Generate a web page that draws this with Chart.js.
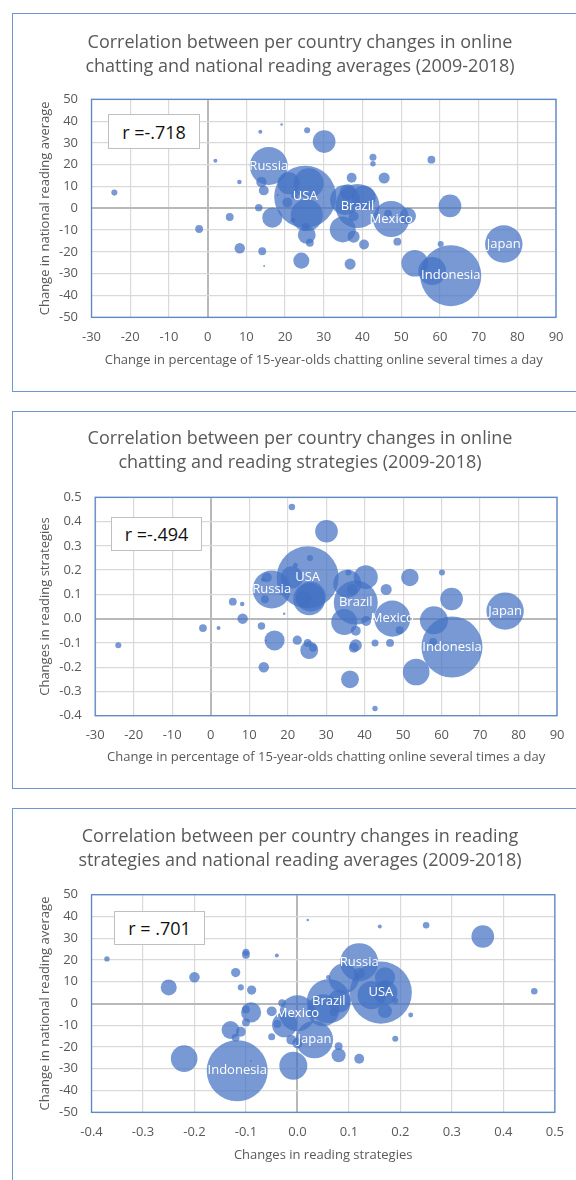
<!DOCTYPE html>
<html><head><meta charset="utf-8">
<script src="https://cdn.jsdelivr.net/npm/chart.js@4.4.1/dist/chart.umd.min.js"></script>
<style>
html,body{margin:0;padding:0;background:#fff}
body{width:576px;height:1180px;overflow:hidden;position:relative;font-family:"Open Sans",sans-serif}
.panel{position:absolute;left:12px;width:620px;border:1.3px solid #6f97cf;box-sizing:border-box}
canvas{position:absolute;left:12px}
.title{position:absolute;left:0;width:600px;text-align:center;color:#595959;font-size:18px;line-height:23.5px;z-index:2}
.rbox{position:absolute;box-sizing:border-box;border:1px solid #bfbfbf;background:#fff;color:#111;font-size:18px;display:flex;align-items:center;justify-content:center;z-index:2}
</style></head>
<body>
<div class="panel" style="top:13px;height:379px"></div>
<div class="panel" style="top:411px;height:378px"></div>
<div class="panel" style="top:808px;height:400px"></div>
<canvas id="c1" width="564" height="379" style="top:13px"></canvas>
<canvas id="c2" width="564" height="378" style="top:411px"></canvas>
<canvas id="c3" width="564" height="372" style="top:808px"></canvas>
<div class="title" style="top:30px">Correlation between per country changes in online<br>chatting and national reading averages (2009-2018)</div>
<div class="title" style="top:426px">Correlation between per country changes in online<br>chatting and reading strategies (2009-2018)</div>
<div class="title" style="top:824px">Correlation between per country changes in reading<br>strategies and national reading averages (2009-2018)</div>
<div class="rbox" style="left:108px;top:114px;width:92px;height:35px">r =-.718</div>
<div class="rbox" style="left:111px;top:517px;width:91px;height:34px">r =-.494</div>
<div class="rbox" style="left:114px;top:911px;width:91px;height:34px">r = .701</div>
<script>
// Labelled countries come first in every series, in this order
const labelledCountries = ['USA','Indonesia','Brazil','Russia','Japan','Mexico'];

// Tick values
const chatTicks = [-30,-20,-10,0,10,20,30,40,50,60,70,80,90];
const readTicks = [-50,-40,-30,-20,-10,0,10,20,30,40,50];
const strategyTicks = [-0.4,-0.3,-0.2,-0.1,0,0.1,0.2,0.3,0.4,0.5];

// Chart 1: chatting change (x) vs reading average change (y)
const chat1 = [25.2,62.8,38.7,15.8,76.5,47.4,
  -24.1,-2.2,2.0,5.7,8.2,8.3,13.6,13.2,13.9,14.5,14.1,14.6,16.7,19.1,18.1,20.6,20.9,22,22.5,
  26.1,25.6,25.6,26.4,25.3,24.2,25.7,30.1,42.7,42.7,45.6,37.2,57.8,62.6,60.2,53.5,58.0,51.7,
  49.0,40.4,36.8,37.7,34.9,35.5,40.3,36.2,46.6,35.8,37.7];
const read1 = [5.3,-30.9,1.0,19.4,-16.4,-4.9,
  7.2,-9.5,21.8,-4.0,12.1,-18.3,35.1,0.3,12.1,8.2,-19.7,-26.5,-4.3,38.4,6,2.7,11.5,-5.5,6.2,
  11.5,-3.1,-12.2,-15.8,-8.4,-24,35.8,30.6,23.4,20.4,13.9,14.0,22.3,1.1,-16.4,-25.2,-28.8,-3.5,
  -15.3,-16.6,-25.6,-13,-9.7,3.8,5,7.4,-2.5,1.3,-3.6];
const size1 = [314,304,158,118,114,106,
  3,5,1.3,5,1.7,9,1.3,4.5,9,8,5,0.3,33,0.5,0.3,8,40,2,5,
  73,84,26,5,5,21,3,42,4,2.4,10,8,5,42,3,58,64,22,
  5,8,10,12,55,73,47,21,5,3,8];

// Chart 2: chatting change (x) vs reading strategies change (y)
const chat2 = [25.2,62.7,37.7,15.85,76.5,47.2,
  -24.0,-2.0,2.05,5.75,8.2,8.3,13.6,13.2,13.8,14.6,14.1,14.4,16.6,19.1,18.1,21.1,21.1,22,22.5,
  26.0,25.6,25.6,26.6,25.2,24.2,25.8,30.1,42.7,42.7,45.6,37.2,57.8,62.6,60.1,53.4,58.0,51.75,
  49.1,40.4,36.8,37.7,34.7,35.5,40.3,36.2,46.6,35.8,37.7];
const strat2 = [0.17,-0.117,0.066,0.12,0.031,0.0,
  -0.11,-0.039,-0.039,0.07,0.06,0.0,0.16,-0.03,-0.2,0.17,0.08,-0.09,-0.09,0.02,0.1,0.46,0.17,0.22,-0.089,
  0.09,0.08,-0.13,-0.12,-0.1,0.08,0.25,0.36,-0.1,-0.37,0.12,-0.12,-0.096,0.081,0.19,-0.22,-0.007,0.17,
  -0.048,-0.01,0.12,-0.11,-0.014,0.144,0.171,-0.25,-0.1,0.19,-0.05];
const size2 = [314,304,158,118,114,106,
  3,5,1.3,5,1.7,9,1.3,4.5,9,8,5,0.3,33,0.5,0.3,3.5,40,2,7,
  73,84,26,5,5,21,3,42,4,2.4,10,8,5,42,3,58,64,25,
  5,8,10,12,55,64,47,26,5,3,8];

// Chart 3: reading strategies change (x) vs reading average change (y)
const strat3 = [0.162,-0.117,0.061,0.12,0.033,0.0,
  -0.11,-0.039,-0.04,0.07,0.06,0.0,0.16,-0.03,-0.2,0.17,0.08,-0.09,-0.09,0.02,0.1,0.46,0.17,0.22,-0.089,
  0.09,0.05,-0.13,-0.12,-0.1,0.08,0.25,0.36,-0.1,-0.37,0.12,-0.12,-0.1,0.081,0.19,-0.22,-0.008,0.17,
  -0.05,-0.012,0.12,-0.11,-0.025,0.144,0.171,-0.25,-0.1,0.19,-0.05];
const read3 = [5.0,-30.9,1.1,19.0,-16.6,-4.5,
  7.4,-9.4,22.1,-4.0,12.1,-18.2,35.4,0.2,12.1,8.2,-19.6,-26.5,-4.1,38.4,6,5.6,12.0,-5.3,6.2,
  11.5,-3.1,-12.2,-15.7,-8.7,-23.8,36.0,30.8,23.6,20.5,13.9,14.2,22.4,1.1,-16.2,-25.3,-28.6,-3.5,
  -15.3,-16.7,-25.4,-13,-9.8,3.8,5,7.4,-2.7,1.3,-3.6];
const size3 = [314,304,158,118,114,106,
  3,5,1.3,5,1.7,9,1.3,4.5,9,8,5,0.3,33,0.5,0.3,3.5,33,2,7,
  73,84,26,5,5,16,3.5,42,4,2.4,10,7,5,42,3,58,64,16,
  4,8,8,8,51,64,47,21,5,3,8];

const TXT = '#595959';
const BUBBLE = 'rgba(68,114,196,0.72)';
const FONT = '"Open Sans", sans-serif';

const frame = {
  id:'frame',
  beforeDatasetsDraw(chart){
    const {ctx, chartArea:a} = chart;
    ctx.save(); ctx.strokeStyle='#5a87c8'; ctx.lineWidth=1.3;
    ctx.strokeRect(a.left, a.top, a.right-a.left, a.bottom-a.top); ctx.restore();
  }
};
const names = {
  id:'names',
  afterDatasetsDraw(chart){
    const ctx = chart.ctx, meta = chart.getDatasetMeta(0);
    ctx.save(); ctx.fillStyle='#fff'; ctx.font='13px '+FONT;
    ctx.textAlign='center'; ctx.textBaseline='middle';
    labelledCountries.forEach((n,i)=>{ const p = meta.data[i]; ctx.fillText(n, p.x, p.y); });
    ctx.restore();
  }
};
const isZero = v => Math.abs(v) < 1e-9;
const gridColor = c => (c.tick && isZero(c.tick.value)) ? '#b8b8b8' : '#d9d9d9';
const gridWidth = c => (c.tick && isZero(c.tick.value)) ? 2 : 1.2;

function bubbleChart(id, xs, ys, sizes, xTicks, yTicks, xFmt, yFmt, xTitle, yTitle, area){
  const canvas = document.getElementById(id);
  const W = canvas.width, H = canvas.height;
  const pts = xs.map((x,i)=>({x, y: ys[i], r: 1.75*Math.sqrt(sizes[i])}));
  const axisCommon = {
    type:'linear',
    grid:{color:gridColor, lineWidth:gridWidth, drawTicks:false},
    border:{display:false},
  };
  return new Chart(canvas, {
    type:'bubble',
    data:{datasets:[{data:pts, backgroundColor:BUBBLE, borderWidth:0, hoverRadius:0}]},
    options:{
      responsive:false, animation:false, events:[],
      layout:{autoPadding:false, padding:{top:area.top, right:W-area.right, left:0, bottom:0}},
      plugins:{legend:{display:false}, tooltip:{enabled:false}, title:{display:false}},
      scales:{
        x:Object.assign({}, axisCommon, {
          min:xTicks[0], max:xTicks[xTicks.length-1],
          afterBuildTicks:s=>{ s.ticks = xTicks.map(v=>({value:v})); },
          afterFit:s=>{ s.height = H - area.bottom; },
          ticks:{autoSkip:false, maxRotation:0, padding:area.xTickPad, color:TXT, font:{family:FONT,size:13}, callback:v=>xFmt(v)},
          title:{display:true, text:xTitle, color:TXT, font:{family:FONT,size:13}, padding:{top:0,bottom:area.xTitlePad}}
        }),
        y:Object.assign({}, axisCommon, {
          min:yTicks[0], max:yTicks[yTicks.length-1],
          afterBuildTicks:s=>{ s.ticks = yTicks.map(v=>({value:v})); },
          afterFit:s=>{ s.width = area.left; },
          ticks:{autoSkip:false, padding:13.5, color:TXT, font:{family:FONT,size:13}, callback:v=>yFmt(v)},
          title:{display:true, text:yTitle, color:TXT, font:{family:FONT,size:13}, padding:{top:25,bottom:0}}
        })
      }
    },
    plugins:[frame, names]
  });
}
const intFmt = v => String(Math.round(v));
const decFmt = v => isZero(v) ? '0.0' : v.toFixed(1);

bubbleChart('c1', chat1, read1, size1, chatTicks, readTicks, intFmt, intFmt,
  'Change in percentage of 15-year-olds chatting online several times a day',
  'Change in national reading average',
  {left:79.5, right:547, top:86.3, bottom:304.3, xTickPad:12.5, xTitlePad:23.5});
bubbleChart('c2', chat2, strat2, size2, chatTicks, strategyTicks, intFmt, decFmt,
  'Change in percentage of 15-year-olds chatting online several times a day',
  'Changes in reading strategies',
  {left:83.2, right:546.8, top:86.3, bottom:304.7, xTickPad:11.5, xTitlePad:23.5});
bubbleChart('c3', strat3, read3, size3, strategyTicks, readTicks, decFmt, intFmt,
  'Changes in reading strategies',
  'Change in national reading average',
  {left:79.5, right:544.2, top:86.7, bottom:304.3, xTickPad:12, xTitlePad:17});
</script>
</body></html>
